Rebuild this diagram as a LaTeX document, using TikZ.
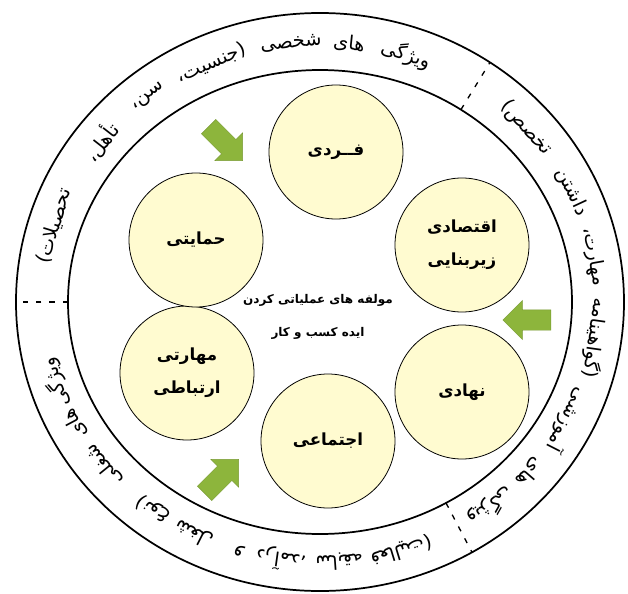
\documentclass[tikz,border=0pt]{standalone}
\usepackage{fontspec}
\newfontfamily\farsi[Script=Arabic]{DejaVu Sans}
\TeXXeTstate=1
\usetikzlibrary{shapes.arrows}
\definecolor{zard}{RGB}{255,251,208}
\definecolor{sabz}{RGB}{141,181,60}
\begin{document}
\begin{tikzpicture}[x=0.75pt,y=0.75pt,line cap=butt,line join=miter,font=\farsi]
	\tikzset{declare function={rxo=304;ryo=289;rxi=252;ryi=232;rxm=278;rym=260;},
		moalefe/.style={circle,draw,line width=0.6pt,fill=zard,minimum size=100.5pt,inner sep=0pt,align=center,
			font=\farsi\bfseries\fontsize{12.5}{25}\selectfont},
		peykan/.style={single arrow,fill=sabz,draw=sabz!85!black,line width=0.3pt,inner xsep=0pt,inner ysep=7.5pt,
			minimum height=36pt,single arrow head extend=7pt},
		halghe/.style={font=\farsi\fontsize{14.5}{16}\selectfont,inner sep=0pt},
		jodakon/.style={line width=1pt,dash pattern=on 4pt off 6pt}}
	\useasboundingbox (-320,-291) rectangle (308,302);
	\draw[line width=1.3pt] (0,0) ellipse [x radius=228pt,y radius=216.75pt]; % bayad
	\draw[line width=1.3pt] (0,0) ellipse [x radius=189pt,y radius=174pt];
	\foreach \t in {56,180,300}{
		\draw[jodakon] ({rxi*cos(\t)},{ryi*sin(\t)})--({rxo*cos(\t)},{ryo*sin(\t)});}
	% vizhegi ha dar halghe
	\foreach \w/\t in {{ویژگی}/72,{های}/84,{شخصی}/96,{(جنسیت،}/113,{سن،}/128,{تأهل،}/142,{تحصیلات)}/163}{
		\node[halghe,rotate=\t-90] (sh\t) at ({rxm*cos(\t)},{rym*sin(\t)}) {\beginR\w\endR};}
	\foreach \w/\t in {{ویژگی}/-52,{های}/-41,{آموزشی}/-27,{(گواهینامه}/-8,{مهارت،}/10,{داشتن}/25,{تخصص)}/42}{
		\node[halghe,rotate=\t-90] (am\t) at ({rxm*cos(\t)},{rym*sin(\t)}) {\beginR\w\endR};}
	\foreach \w/\t in {{ویژگی}/198,{های}/208,{شغلی}/219,{(نوع}/233,{شغل}/243,{و}/253,{درآمد،}/262,{سابقه}/274,{فعالیت)}/287}{
		\node[halghe,rotate=\t-90] (sg\t) at ({rxm*cos(\t)},{rym*sin(\t)}) {\beginR\w\endR};}
	% moalefe ha
	\node[moalefe] (fardi) at (16,150) {\beginR فــردی\endR};
	\node[moalefe] (eghtesadi) at (142,57) {\beginR اقتصادی\endR\\\beginR زیربنایی\endR};
	\node[moalefe] (nahadi) at (142,-90) {\beginR نهادی\endR};
	\node[moalefe] (ejtemaei) at (8,-139) {\beginR اجتماعی\endR};
	\node[moalefe] (maharati) at (-133,-71) {\beginR مهارتی\endR\\\beginR ارتباطی\endR};
	\node[moalefe] (hemayati) at (-124,62) {\beginR حمایتی\endR};
	\node[align=center,font=\farsi\bfseries\fontsize{9}{25}\selectfont] (markaz) at (-2,-15)
		{\beginR مولفه های عملیاتی کردن\endR\\\beginR ایده کسب و کار\endR};
	% peykan ha
	\node[peykan,rotate=-45] (peykan1) at (-98,162) {};
	\node[peykan,rotate=180] (peykan2) at (212,-18) {};
	\node[peykan,rotate=45] (peykan3) at (-102,-178) {};
\end{tikzpicture}
\end{document}
